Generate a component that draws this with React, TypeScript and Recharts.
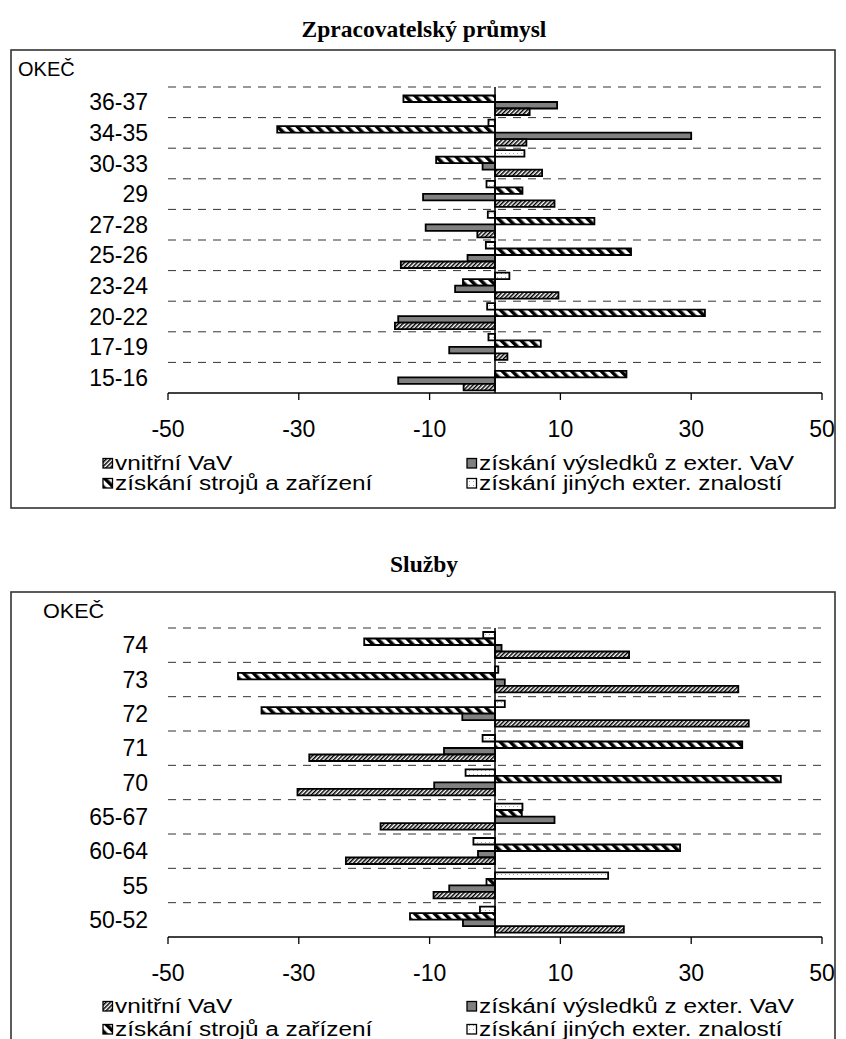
import React from 'react';
import { BarChart, Bar, XAxis, YAxis, CartesianGrid, ReferenceLine } from 'recharts';

// ---------- DATA ----------
const manCategories = ['36-37', '34-35', '30-33', '29', '27-28', '25-26', '23-24', '20-22', '17-19', '15-16'];
const manJine = [0, -1.0, 4.5, -1.3, -1.1, -1.4, 2.2, -1.2, -1.0, 0];
const manStroje = [-14.0, -33.3, -9.0, 4.2, 15.2, 20.8, -4.9, 32.1, 7.0, 20.1];
const manVysledky = [9.5, 30.0, -1.9, -11.0, -10.6, -4.2, -6.1, -14.8, -7.0, -14.8];
const manVnitrni = [5.3, 4.8, 7.2, 9.1, -2.7, -14.4, 9.7, -15.3, 1.9, -4.8];

const srvCategories = ['74', '73', '72', '71', '70', '65-67', '60-64', '55', '50-52'];
const srvJine = [-1.8, 0.5, 1.5, -1.9, -4.5, 4.2, -3.3, 17.3, -2.3];
const srvStroje = [-20.0, -39.3, -35.7, 37.8, 43.7, 4.1, 28.3, -1.3, -13.0];
const srvVysledky = [1.0, 1.5, -5.0, -7.8, -9.3, 9.1, -2.6, -7.0, -4.9];
const srvVnitrni = [20.5, 37.2, 38.8, -28.4, -30.2, -17.5, -22.8, -9.4, 19.7];

const xTicks = [-50, -30, -10, 10, 30, 50];
const xDomain = [-50, 50];

const titleTop = 'Zpracovatelský průmysl';
const titleBottom = 'Služby';
const axisTitle = 'OKEČ';
const legendNames = {
  vnitrni: 'vnitřní VaV',
  vysledky: 'získání výsledků z exter. VaV',
  stroje: 'získání strojů a zařízení',
  jine: 'získání jiných exter. znalostí',
};

const SANS = "'Liberation Sans', Arial, Helvetica, sans-serif";
const SERIF = "'Liberation Serif', 'Times New Roman', Times, serif";

function buildRows(cats: string[], jine: number[], stroje: number[], vysledky: number[], vnitrni: number[]) {
  return cats.map((c, i) => ({ cat: c, jine: jine[i], stroje: stroje[i], vysledky: vysledky[i], vnitrni: vnitrni[i] }));
}

const manData = buildRows(manCategories, manJine, manStroje, manVysledky, manVnitrni);
const srvData = buildRows(srvCategories, srvJine, srvStroje, srvVysledky, srvVnitrni);

function Patterns({ prefix }: { prefix: string }) {
  return (
    <defs>
      <pattern id={`${prefix}-vnitrni`} patternUnits="userSpaceOnUse" width="3" height="3" patternTransform="rotate(45)">
        <rect width="3" height="3" fill="#fff" />
        <rect width="1.5" height="3" fill="#000" />
      </pattern>
      <pattern id={`${prefix}-stroje`} patternUnits="userSpaceOnUse" width="7" height="7" patternTransform="rotate(-45)">
        <rect width="7" height="7" fill="#fff" />
        <rect width="3.5" height="7" fill="#000" />
      </pattern>
      <pattern id={`${prefix}-jine`} patternUnits="userSpaceOnUse" width="4" height="4">
        <rect width="4" height="4" fill="#fff" />
        <rect x="1" y="1" width="1" height="1" fill="#aaa" />
      </pattern>
    </defs>
  );
}

function Panel({ prefix, data, height }: { prefix: string; data: any[]; height: number }) {
  const n = data.length;
  return (
    <BarChart
      width={846}
      height={height}
      data={data}
      layout="vertical"
      margin={{ top: 87, right: 24, bottom: 20, left: 11 }}
      barGap={0}
      barSize={6.5}
    >
      <Patterns prefix={prefix} />
      <CartesianGrid
        vertical={false}
        stroke="#333"
        strokeDasharray="8 7"
        horizontalCoordinatesGenerator={(props: any) => {
          const off = props.offset;
          return Array.from({ length: n }, (_, i) => off.top + (i * off.height) / n);
        }}
      />
      <XAxis
        type="number"
        domain={xDomain}
        ticks={xTicks}
        interval={0}
        allowDataOverflow
        height={47}
        tickSize={7}
        tickMargin={21}
        axisLine={{ stroke: '#000', strokeWidth: 1.3 }}
        tickLine={{ stroke: '#000', strokeWidth: 1.3 }}
        tick={{ fill: '#000', fontSize: 23, fontFamily: SANS }}
      />
      <YAxis
        type="category"
        dataKey="cat"
        width={157}
        interval={0}
        tickSize={0}
        tickMargin={20}
        axisLine={false}
        tickLine={false}
        tick={{ fill: '#000', fontSize: 23, fontFamily: SANS }}
      />
      <Bar dataKey="jine" fill={`url(#${prefix}-jine)`} stroke="#000" strokeWidth={1.8} isAnimationActive={false} />
      <Bar dataKey="stroje" fill={`url(#${prefix}-stroje)`} stroke="#000" strokeWidth={1.8} isAnimationActive={false} />
      <Bar dataKey="vysledky" fill="#808080" stroke="#000" strokeWidth={1.8} isAnimationActive={false} />
      <Bar dataKey="vnitrni" fill={`url(#${prefix}-vnitrni)`} stroke="#000" strokeWidth={1.8} isAnimationActive={false} />
      <ReferenceLine x={0} stroke="#000" strokeWidth={1.5} />
    </BarChart>
  );
}

function LegendItem({ x, y, fill, label }: { x: number; y: number; fill: string; label: string }) {
  return (
    <g>
      <rect x={x - 12} y={y - 11.5} width={9.5} height={9.5} fill={fill} stroke="#000" strokeWidth={1.3} />
      <text transform={`translate(${x},${y}) scale(1.25,1)`} fontSize={19.5} fontFamily={SANS} fill="#000">
        {label}
      </text>
    </g>
  );
}

function LegendBlock({ row1, row2 }: { row1: number; row2: number }) {
  const c1 = 115;
  const c2 = 479;
  return (
    <g>
      <LegendItem x={c1} y={row1} fill="url(#lg-vnitrni)" label={legendNames.vnitrni} />
      <LegendItem x={c2} y={row1} fill="#808080" label={legendNames.vysledky} />
      <LegendItem x={c1} y={row2} fill="url(#lg-stroje)" label={legendNames.stroje} />
      <LegendItem x={c2} y={row2} fill="url(#lg-jine)" label={legendNames.jine} />
    </g>
  );
}

export default function App() {
  return (
    <div style={{ position: 'absolute', left: 0, top: 0, width: 846, height: 1039, overflow: 'hidden', background: '#fff' }}>
      <div style={{ position: 'absolute', left: 0, top: 0 }}>
        <Panel prefix="man" data={manData} height={460} />
      </div>
      <div style={{ position: 'absolute', left: 0, top: 541 }}>
        <Panel prefix="srv" data={srvData} height={463} />
      </div>
      <svg
        width={846}
        height={1039}
        style={{ position: 'absolute', left: 0, top: 0, pointerEvents: 'none' }}
      >
        <Patterns prefix="lg" />
        <rect x={11} y={50} width={824} height={458} fill="none" stroke="#333" strokeWidth={1.6} />
        <rect x={11} y={592} width={824} height={500} fill="none" stroke="#333" strokeWidth={1.6} />
        <text x={424} y={37} textAnchor="middle" fontFamily={SERIF} fontWeight="bold" fontSize={23.5} fill="#000">
          {titleTop}
        </text>
        <text x={424} y={572} textAnchor="middle" fontFamily={SERIF} fontWeight="bold" fontSize={23.5} fill="#000">
          {titleBottom}
        </text>
        <text x={18} y={76} fontFamily={SANS} fontSize={20} fill="#000">{axisTitle}</text>
        <text fontFamily={SANS} fontSize={20} fill="#000" transform="translate(43,618) scale(1.08,1)">{axisTitle}</text>
        <LegendBlock row1={470} row2={490} />
        <LegendBlock row1={1013} row2={1036} />
      </svg>
    </div>
  );
}
